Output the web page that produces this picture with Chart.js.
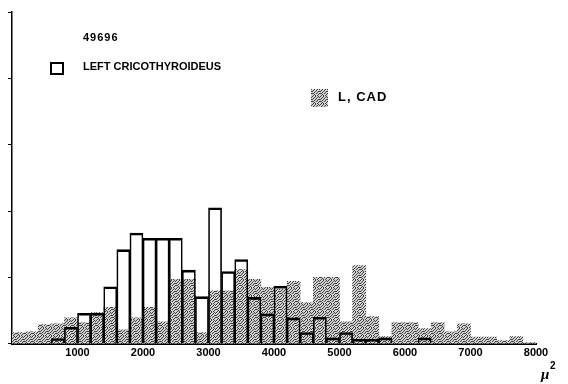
<!DOCTYPE html>
<html>
<head>
<meta charset="utf-8">
<script src="https://cdn.jsdelivr.net/npm/chart.js@4/dist/chart.umd.min.js"></script>
<style>
  html, body { margin: 0; padding: 0; background: #fff; }
  #wrap { width: 568px; height: 384px; }
</style>
</head>
<body>
<div id="wrap"><canvas id="histChart" width="568" height="384"></canvas></div>
<script>
// fibre area bins (mu^2), 200 wide
const binWidth = 200;
const leftBinStarts = [600, 800, 1000, 1200, 1400, 1600, 1800, 2000, 2200, 2400, 2600, 2800, 3000, 3200, 3400,
    3600, 3800, 4000, 4200, 4400, 4600, 4800, 5000, 5200, 5400, 5600, 5800, 6000, 6200];
const leftValues = [0.8, 2.5, 4.6, 4.6, 8.6, 14.2, 16.7, 15.9, 15.9, 15.9, 11.1, 7.1, 20.5, 10.9, 12.7,
    7.0, 4.5, 8.7, 3.9, 1.7, 4.0, 0.9, 1.7, 0.7, 0.7, 0.9, null, null, 0.9];

const cadBinStarts = [0, 200, 400, 600, 800, 1000, 1200, 1400, 1600, 1800, 2000, 2200, 2400, 2600, 2800,
    3000, 3200, 3400, 3600, 3800, 4000, 4200, 4400, 4600, 4800, 5000, 5200, 5400, 5600, 5800,
    6000, 6200, 6400, 6600, 6800, 7000, 7200, 7400, 7600, 7800];
const cadValues = [1.7, 1.8, 2.9, 3.0, 3.9, 3.2, 4.7, 5.5, 2.1, 3.9, 5.5, 3.3, 9.7, 9.7, 1.7,
    8.0, 8.0, 11.2, 9.7, 8.5, 8.2, 9.4, 6.2, 10.0, 10.0, 3.3, 11.8, 4.1, 1.1, 3.2,
    3.2, 2.3, 3.2, 1.8, 3.0, 1.0, 1.0, 0.5, 1.1, 0.2];

const xTicks = [1000, 2000, 3000, 4000, 5000, 6000, 7000, 8000];
const sampleLabel = '49696';
const leftLabel = 'LEFT CRICOTHYROIDEUS';
const cadLabel = 'L, CAD';

// stipple pattern like the old print screen (fixed dot layout, 8x8 tile)
const stippleDots = [
    '10010010',
    '00100101',
    '01001000',
    '10010011',
    '00100100',
    '11001001',
    '00100010',
    '01010100'
];
function makeStipple() {
    const c = document.createElement('canvas');
    c.width = 8; c.height = 8;
    const g = c.getContext('2d');
    g.fillStyle = '#d2d2d2';
    g.fillRect(0, 0, 8, 8);
    g.fillStyle = '#404040';
    stippleDots.forEach((row, y) => {
        for (let x = 0; x < row.length; x++) {
            if (row[x] === '1') g.fillRect(x, y, 1, 1);
        }
    });
    return g.createPattern(c, 'repeat');
}
const stipple = makeStipple();

const leftData = leftBinStarts.map((s, i) => ({ x: s + binWidth / 2, y: leftValues[i] }));
const cadData = cadBinStarts.map((s, i) => ({ x: s + binWidth / 2, y: cadValues[i] }));

const legendPlugin = {
    id: 'oldLegend',
    afterDraw(chart) {
        const ctx = chart.ctx;
        const a = chart.chartArea;
        ctx.save();
        ctx.fillStyle = '#000';
        ctx.textBaseline = 'middle';
        ctx.font = 'bold 11px "Liberation Sans", Arial, sans-serif';
        ctx.letterSpacing = '1px';
        ctx.fillText(sampleLabel, a.left + 71, a.top + 26);
        ctx.letterSpacing = '0px';
        ctx.fillText(leftLabel, a.left + 71, a.top + 55);
        ctx.lineWidth = 2;
        ctx.strokeStyle = '#000';
        ctx.strokeRect(a.left + 39, a.top + 51, 12, 11);
        ctx.fillStyle = stipple;
        ctx.fillRect(a.left + 299, a.top + 77, 17, 18);
        ctx.fillStyle = '#000';
        ctx.font = 'bold 13px "Liberation Sans", Arial, sans-serif';
        ctx.letterSpacing = '1px';
        ctx.fillText(cadLabel, a.left + 326, a.top + 85);
        // unit
        const xs = chart.scales.x;
        ctx.letterSpacing = '0px';
        ctx.font = 'italic bold 15px "Liberation Serif", serif';
        ctx.fillText('\u03bc', xs.right + 5, a.bottom + 31);
        ctx.font = 'bold 10px "Liberation Sans", Arial, sans-serif';
        ctx.fillText('2', xs.right + 14, a.bottom + 22);
        ctx.restore();
    }
};

new Chart(document.getElementById('histChart'), {
    type: 'bar',
    data: {
        datasets: [
            {
                label: leftLabel,
                data: leftData,
                grouped: false,
                order: 0,
                backgroundColor: 'rgba(0,0,0,0)',
                borderColor: '#000',
                borderWidth: { top: 2, left: 1, right: 1, bottom: 0 },
                borderSkipped: false,
                barPercentage: 1,
                categoryPercentage: 1
            },
            {
                label: cadLabel,
                data: cadData,
                grouped: false,
                order: 1,
                backgroundColor: stipple,
                borderWidth: 0,
                barPercentage: 1,
                categoryPercentage: 1
            }
        ]
    },
    options: {
        responsive: false,
        animation: false,
        layout: { padding: { left: 8, top: 12, right: 32, bottom: 21 } },
        plugins: { legend: { display: false }, tooltip: { enabled: false } },
        scales: {
            x: {
                type: 'linear',
                min: 0,
                max: 8000,
                offset: false,
                afterBuildTicks: (axis) => { axis.ticks = xTicks.map(v => ({ value: v })); },
                grid: { display: false, drawTicks: false },
                border: { display: true, color: '#000', width: 2 },
                ticks: {
                    color: '#000',
                    padding: 3,
                    maxRotation: 0,
                    callback: (v) => String(v),
                    font: { family: '"Liberation Sans", Arial, sans-serif', size: 11, weight: 'bold' }
                }
            },
            y: {
                min: 0,
                max: 50,
                ticks: { display: false, stepSize: 10 },
                grid: { drawOnChartArea: false, drawTicks: true, tickLength: 4, color: '#000', lineWidth: 1 },
                border: { display: true, color: '#000', width: 1.5 }
            }
        }
    },
    plugins: [legendPlugin]
});
</script>
</body>
</html>
